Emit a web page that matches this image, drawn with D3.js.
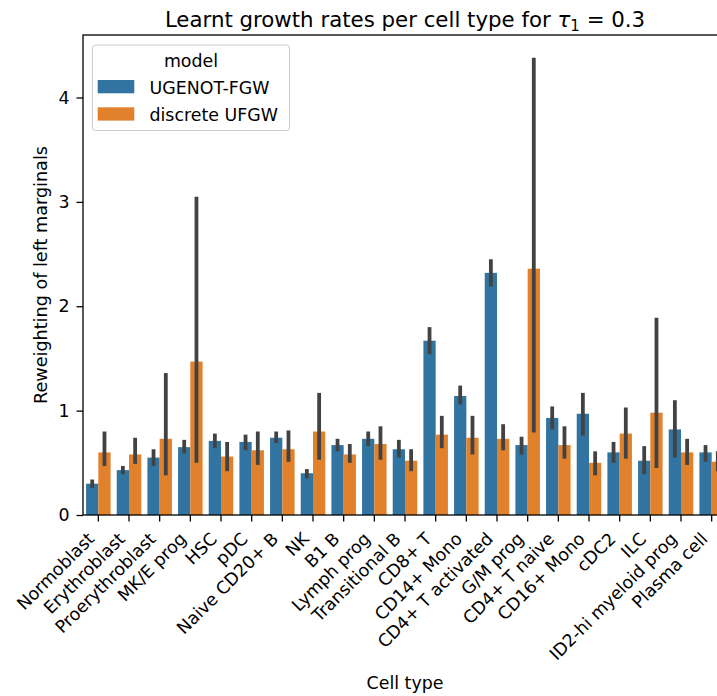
<!DOCTYPE html>
<html>
<head>
<meta charset="utf-8">
<script src="https://cdn.jsdelivr.net/npm/d3@7"></script>
<style>
    body { margin: 0; background: white; }
    text { font-family: "DejaVu Sans", sans-serif; fill: black; }
</style>
</head>
<body>
<script>
// cell types on the x axis, in plot order
var categories = ["Normoblast", "Erythroblast", "Proerythroblast", "MK/E prog",
    "HSC", "pDC", "Naive CD20+ B", "NK", "B1 B", "Lymph prog", "Transitional B",
    "CD8+ T", "CD14+ Mono", "CD4+ T activated", "G/M prog", "CD4+ T naive",
    "CD16+ Mono", "cDC2", "ILC", "ID2-hi myeloid prog", "Plasma cell"];

var models = ["UGENOT-FGW", "discrete UFGW"];

// UGENOT-FGW : mean and error bar (low / high)
var ugenotMean = [0.30, 0.43, 0.55, 0.65, 0.71, 0.70, 0.74, 0.40, 0.67, 0.73,
    0.63, 1.67, 1.14, 2.32, 0.67, 0.93, 0.97, 0.60, 0.52, 0.82, 0.60];
var ugenotLo = [0.26, 0.39, 0.47, 0.59, 0.64, 0.62, 0.69, 0.35, 0.61, 0.66,
    0.55, 1.54, 1.06, 2.19, 0.58, 0.82, 0.76, 0.50, 0.39, 0.55, 0.51];
var ugenotHi = [0.34, 0.47, 0.63, 0.72, 0.78, 0.77, 0.80, 0.44, 0.73, 0.80,
    0.72, 1.80, 1.24, 2.45, 0.75, 1.04, 1.17, 0.70, 0.66, 1.10, 0.67];

// discrete UFGW : mean and error bar (low / high)
var ufgwMean = [0.60, 0.58, 0.73, 1.47, 0.56, 0.62, 0.63, 0.80, 0.58, 0.68,
    0.52, 0.77, 0.74, 0.73, 2.36, 0.67, 0.50, 0.78, 0.98, 0.60, 0.51];
var ufgwLo = [0.47, 0.49, 0.38, 0.50, 0.42, 0.48, 0.51, 0.53, 0.50, 0.53,
    0.42, 0.64, 0.58, 0.62, 0.79, 0.54, 0.38, 0.54, 0.45, 0.48, 0.42];
var ufgwHi = [0.80, 0.74, 1.36, 3.05, 0.70, 0.80, 0.81, 1.17, 0.68, 0.85,
    0.63, 0.95, 0.95, 0.87, 4.38, 0.85, 0.61, 1.03, 1.89, 0.73, 0.61];

var yTicks = [0, 1, 2, 3, 4];

var colors = {"UGENOT-FGW": "#3274a1", "discrete UFGW": "#e1812c"};

// margins: the right side of the axes runs past the window (cropped figure)
var margin = {top: 35, left: 83},
    width = 644,
    height = 480;

var svg = d3.select("body").append("svg")
    .attr("width", 717)
    .attr("height", 696);

var g = svg.append("g")
    .attr("transform", "translate(" + margin.left + "," + margin.top + ")");

// build one row per bar from the arrays
var rows = [];
categories.forEach(function(c, i) {
    rows.push({cat: c, model: models[0], value: ugenotMean[i],
        lo: ugenotLo[i], hi: ugenotHi[i]});
    rows.push({cat: c, model: models[1], value: ufgwMean[i],
        lo: ufgwLo[i], hi: ufgwHi[i]});
});

var xScale = d3.scaleBand().domain(categories).range([0, width]);
var bw = xScale.bandwidth();
var xSub = d3.scaleBand().domain(models).range([bw * 0.1, bw * 0.9]);

// matplotlib style 5% margin above the highest error bar
var yMax = d3.max(rows, function(d) { return d.hi; }) * 1.05;
var yScale = d3.scaleLinear().domain([0, yMax]).range([height, 0]);

// bars
g.selectAll("rect.bar")
    .data(rows)
    .enter()
    .append("rect")
    .attr("class", "bar")
    .attr("x", function(d) { return xScale(d.cat) + xSub(d.model); })
    .attr("y", function(d) { return yScale(d.value); })
    .attr("width", xSub.bandwidth())
    .attr("height", function(d) { return height - yScale(d.value); })
    .attr("fill", function(d) { return colors[d.model]; });

// error bars
g.selectAll("line.err")
    .data(rows)
    .enter()
    .append("line")
    .attr("class", "err")
    .attr("x1", function(d) { return xScale(d.cat) + xSub(d.model) + xSub.bandwidth() / 2; })
    .attr("x2", function(d) { return xScale(d.cat) + xSub(d.model) + xSub.bandwidth() / 2; })
    .attr("y1", function(d) { return yScale(d.lo); })
    .attr("y2", function(d) { return yScale(d.hi); })
    .attr("stroke", "#424242")
    .attr("stroke-width", 3.8);

// y axis
var yAxis = d3.axisLeft(yScale).tickValues(yTicks).tickFormat(d3.format("d"))
    .tickSize(6.5).tickPadding(7);
var yG = g.append("g").call(yAxis);
yG.select(".domain").remove();
yG.selectAll("line").attr("stroke", "black").attr("stroke-width", 1.3);
yG.selectAll("text").attr("font-size", "17.4px").attr("fill", "black")
    .style("font-family", "DejaVu Sans");

// x axis ticks, labels placed by hand at -45 degrees (matplotlib alignment)
var xAxis = d3.axisBottom(xScale).tickSize(6.5).tickFormat("");
var xG = g.append("g")
    .attr("transform", "translate(0," + height + ")")
    .call(xAxis);
xG.select(".domain").remove();
xG.selectAll("line").attr("stroke", "black").attr("stroke-width", 1.3);

g.selectAll("text.xlab")
    .data(categories)
    .enter()
    .append("text")
    .attr("class", "xlab")
    .attr("transform", function(d) {
        var x = xScale(d) + bw / 2;
        return "translate(" + x + "," + (height + 28) + ") rotate(-45)";
    })
    .attr("dy", "-0.24em")
    .attr("text-anchor", "end")
    .attr("font-size", "17.4px")
    .text(function(d) { return d; });

// spines (the right one is outside the window)
g.append("rect")
    .attr("x", 0).attr("y", 0)
    .attr("width", width).attr("height", height)
    .attr("fill", "none")
    .attr("stroke", "black")
    .attr("stroke-width", 1.3);

// title with tau_1
var title = svg.append("text")
    .attr("x", margin.left + width / 2)
    .attr("y", 26.5)
    .attr("text-anchor", "middle")
    .attr("font-size", "21.3px");
title.append("tspan").text("Learnt growth rates per cell type for ");
title.append("tspan").attr("font-style", "italic").text("τ");
title.append("tspan").attr("font-size", "15px").attr("dy", "4").text("1");
title.append("tspan").attr("dy", "-4").text(" = 0.3");

// axis labels
svg.append("text")
    .attr("transform", "translate(47," + (margin.top + height / 2) + ") rotate(-90)")
    .attr("text-anchor", "middle")
    .attr("font-size", "17.6px")
    .text("Reweighting of left marginals");

svg.append("text")
    .attr("x", margin.left + width / 2)
    .attr("y", 689)
    .attr("text-anchor", "middle")
    .attr("font-size", "17.4px")
    .text("Cell type");

// legend
var legend = svg.append("g").attr("transform", "translate(92.5,45)");
legend.append("rect")
    .attr("width", 197).attr("height", 85.5)
    .attr("rx", 3)
    .attr("fill", "white").attr("fill-opacity", 0.8)
    .attr("stroke", "#cccccc");
legend.append("text")
    .attr("x", 98.5).attr("y", 21.5)
    .attr("text-anchor", "middle")
    .attr("font-size", "17.4px")
    .text("model");
models.forEach(function(m, i) {
    legend.append("rect")
        .attr("x", 5.2).attr("y", 35 + i * 27.3)
        .attr("width", 36.6).attr("height", 13.3)
        .attr("fill", colors[m]);
    legend.append("text")
        .attr("x", 57).attr("y", 49 + i * 27.3)
        .attr("font-size", "17.4px")
        .text(m);
});
</script>
</body>
</html>
